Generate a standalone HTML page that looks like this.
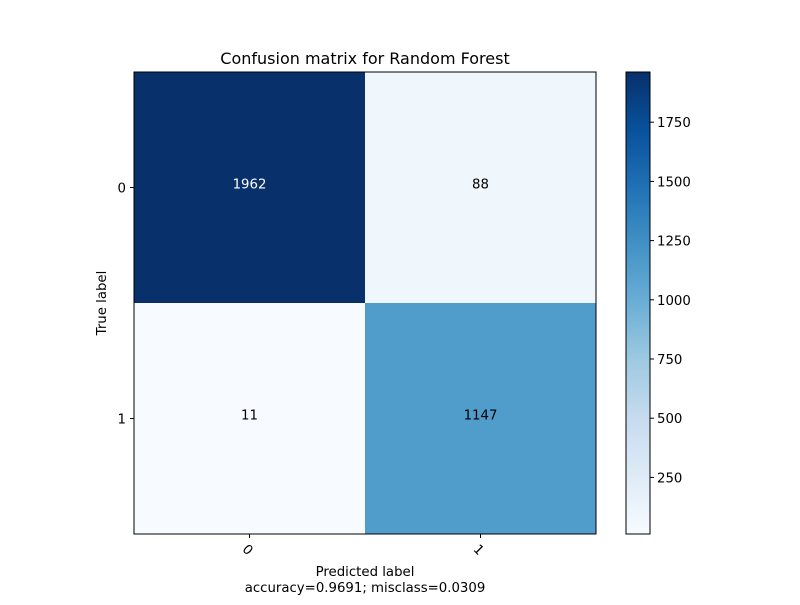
<!DOCTYPE html>
<html><head><meta charset="utf-8"><style>
body{margin:0;background:#fff;font-family:"Liberation Sans","DejaVu Sans",sans-serif}
svg text{font-family:"DejaVu Sans","Liberation Sans",sans-serif}
</style></head><body>
<svg id="chart" width="800" height="600" viewBox="0 0 800 600"></svg>
<script>
const classes = ["0","1"];
const matrix = [[1962,88],[11,1147]];
const cbTicks = [250,500,750,1000,1250,1500,1750];
const titleText = "Confusion matrix for Random Forest";
const accText = "accuracy=0.9691; misclass=0.0309";

const NS="http://www.w3.org/2000/svg";
const svg=document.getElementById('chart');
function mk(t,a,p){const e=document.createElementNS(NS,t);for(const k in a)e.setAttribute(k,a[k]);(p||svg).appendChild(e);return e;}
const X0=134,Y0=72,W=462,H=462;
const flat=matrix.flat();const vmin=Math.min(...flat),vmax=Math.max(...flat);
const stops=[[247,251,255],[222,235,247],[198,219,239],[158,202,225],[107,174,214],[66,146,198],[33,113,181],[8,81,156],[8,48,107]];
function blues(v){let t=(v-vmin)/(vmax-vmin);t=Math.max(0,Math.min(1,t));const s=t*(stops.length-1);const i=Math.min(Math.floor(s),stops.length-2);const f=s-i;const c=stops[i].map((a,j)=>Math.round(a+(stops[i+1][j]-a)*f));return `rgb(${c})`;}
const n=classes.length,cw=W/n,ch=H/n;
const thresh=vmax/1.5;
for(let r=0;r<n;r++)for(let c=0;c<n;c++){
  const v=matrix[r][c];
  const rect=mk('rect',{x:X0+c*cw,y:Y0+r*ch,width:cw,height:ch,fill:blues(v)});
  
  
  const t=mk('text',{x:X0+c*cw+cw/2,y:Y0+r*ch+ch/2+1,'text-anchor':'middle','font-size':13.3,fill:v>thresh?'#fff':'#000'});
  t.textContent=v;
  
  
}
const fr=mk('rect',{x:X0,y:Y0,width:W,height:H,fill:'none',stroke:'#000','stroke-width':1});

classes.forEach((c,i)=>{
  const cx=X0+i*cw+cw/2, cy=Y0+i*ch+ch/2;
  mk('line',{x1:cx,y1:Y0+H,x2:cx,y2:Y0+H+4,stroke:'#000'});
  const xt=mk('text',{x:cx-2,y:Y0+H+20,'text-anchor':'middle','font-size':13.3,transform:`rotate(45 ${cx-2} ${Y0+H+16})`});
  xt.textContent=c;
  mk('line',{x1:X0,y1:cy,x2:X0-4,y2:cy,stroke:'#000'});
  const yt=mk('text',{x:X0-8,y:cy+5,'text-anchor':'end','font-size':13.3});
  yt.textContent=c;
});
const tt=mk('text',{x:X0+W/2,y:64,'text-anchor':'middle','font-size':16});tt.textContent=titleText;

const xl=mk('text',{x:X0+W/2,y:576,'text-anchor':'middle','font-size':13.3});xl.textContent="Predicted label";

const al=mk('text',{x:X0+W/2,y:592,'text-anchor':'middle','font-size':13.3});al.textContent=accText;

const yl=mk('text',{x:106,y:Y0+H/2,'text-anchor':'middle','font-size':13.3,transform:`rotate(-90 106 ${Y0+H/2})`});yl.textContent="True label";

const CX=626,CW=24;
const defs=mk('defs',{});const g=mk('linearGradient',{id:'cbg',x1:0,y1:1,x2:0,y2:0},defs);
stops.forEach((s,i)=>mk('stop',{offset:i/(stops.length-1),'stop-color':`rgb(${s})`},g));
const cb=mk('rect',{x:CX,y:Y0,width:CW,height:H,fill:'url(#cbg)',stroke:'#000','stroke-width':1});

const cy=v=>Y0+H-(v-vmin)/(vmax-vmin)*H;
cbTicks.forEach(v=>{
  const y=cy(v);
  mk('line',{x1:CX+CW,y1:y,x2:CX+CW+4,y2:y,stroke:'#000'});
  const t=mk('text',{x:CX+CW+7,y:y+5,'font-size':13.3});t.textContent=v;
  
});
</script>
</body></html>
